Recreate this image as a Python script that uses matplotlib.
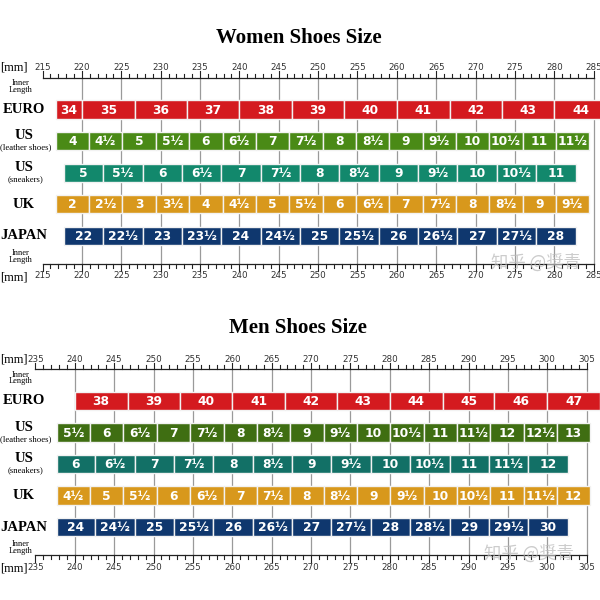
import matplotlib.pyplot as plt

# ---- data: size labels and their segment edges along the foot length [mm]
w_euro = ['34', '35', '36', '37', '38', '39', '40', '41', '42', '43', '44']
w_euro_edges = [216.7, 220.0, 226.7, 233.3, 240.0, 246.7, 253.3, 260.0, 266.7, 273.3, 280.0, 286.7]
w_us_leather = ['4', '4½', '5', '5½', '6', '6½', '7', '7½', '8', '8½', '9', '9½', '10', '10½', '11', '11½']
w_us_leather_edges = [216.7, 220.9, 225.1, 229.4, 233.6, 237.9, 242.1, 246.3, 250.6,
                      254.8, 259.0, 263.3, 267.5, 271.7, 276.0, 280.2, 284.4]
w_us_sneakers = ['5', '5½', '6', '6½', '7', '7½', '8', '8½', '9', '9½', '10', '10½', '11']
w_us_sneakers_edges = [217.7, 222.7, 227.7, 232.7, 237.7, 242.7, 247.7, 252.7,
                       257.7, 262.7, 267.7, 272.7, 277.7, 282.7]
w_uk = ['2', '2½', '3', '3½', '4', '4½', '5', '5½', '6', '6½', '7', '7½', '8', '8½', '9', '9½']
w_uk_edges = [216.7, 220.9, 225.1, 229.4, 233.6, 237.9, 242.1, 246.3, 250.6,
              254.8, 259.0, 263.3, 267.5, 271.7, 276.0, 280.2, 284.4]
w_japan = ['22', '22½', '23', '23½', '24', '24½', '25', '25½', '26', '26½', '27', '27½', '28']
w_japan_edges = [217.7, 222.7, 227.7, 232.7, 237.7, 242.7, 247.7, 252.7,
                 257.7, 262.7, 267.7, 272.7, 277.7, 282.7]

m_euro = ['38', '39', '40', '41', '42', '43', '44', '45', '46', '47']
m_euro_edges = [240.0, 246.7, 253.3, 260.0, 266.7, 273.3, 280.0, 286.7, 293.3, 300.0, 306.7]
m_us_leather = ['5½', '6', '6½', '7', '7½', '8', '8½', '9', '9½', '10', '10½', '11', '11½', '12', '12½', '13']
m_us_leather_edges = [237.7, 241.9, 246.1, 250.4, 254.6, 258.9, 263.1, 267.3, 271.6,
                      275.8, 280.0, 284.3, 288.5, 292.7, 297.0, 301.2, 305.4]
m_us_sneakers = ['6', '6½', '7', '7½', '8', '8½', '9', '9½', '10', '10½', '11', '11½', '12']
m_us_sneakers_edges = [237.7, 242.6, 247.6, 252.6, 257.6, 262.6, 267.6, 272.6,
                       277.6, 282.6, 287.6, 292.6, 297.6, 302.6]
m_uk = ['4½', '5', '5½', '6', '6½', '7', '7½', '8', '8½', '9', '9½', '10', '10½', '11', '11½', '12']
m_uk_edges = [237.7, 241.9, 246.1, 250.4, 254.6, 258.9, 263.1, 267.3, 271.6,
              275.8, 280.0, 284.3, 288.5, 292.7, 297.0, 301.2, 305.4]
m_japan = ['24', '24½', '25', '25½', '26', '26½', '27', '27½', '28', '28½', '29', '29½', '30']
m_japan_edges = [237.7, 242.6, 247.6, 252.6, 257.6, 262.6, 267.6, 272.6,
                 277.6, 282.6, 287.6, 292.6, 297.6, 302.6]

row_names = [('EURO', None), ('US', '(leather shoes)'), ('US', '(sneakers)'), ('UK', None), ('JAPAN', None)]

SERIF = 'Liberation Serif'


def draw_ruler(ax, lo, hi, y, up, lab_y):
    ax.plot([lo, hi], [y, y], color='#222222', lw=0.9, zorder=3)
    s = -1 if up else 1
    for mm in range(lo, hi + 1):
        h = 0.22 if mm % 5 == 0 else 0.13
        ax.plot([mm, mm], [y, y + s * h], color='#222222', lw=0.8, zorder=3)
        if mm % 5 == 0:
            ax.text(mm, lab_y, str(mm), ha='center', va='center', fontsize=6.3,
                    color='#333333', zorder=4)


def draw_panel(ax, title, rows, colors, lo, hi, xlim, ylim, title_y, wm_x):
    ax.set_xlim(*xlim)
    ax.set_ylim(*ylim)
    ax.axis('off')
    top, bot = -1.0, 4.89
    ax.text((xlim[0] + xlim[1]) / 2 - 0.2, title_y, title, ha='center', va='center',
            fontsize=15, fontweight='bold', family=SERIF)

    # guide lines every 5 mm
    ax.vlines(range(lo + 5, hi + 1, 5), top, bot, color='#9a9a9a', lw=0.9, zorder=0)
    draw_ruler(ax, lo, hi, top, True, top - 0.33)
    draw_ruler(ax, lo, hi, bot, False, bot + 0.38)

    yt = ax.get_yaxis_transform()
    ax.text(0.0, top - 0.33, '[mm]', transform=yt, ha='left', va='center',
            fontsize=9, family=SERIF)
    ax.text(0.035, top + 0.27, 'Inner\nLength', transform=yt, ha='center', va='center',
            fontsize=6, family=SERIF, linespacing=0.8)
    ax.text(0.035, bot - 0.24, 'Inner\nLength', transform=yt, ha='center', va='center',
            fontsize=6, family=SERIF, linespacing=0.8)
    ax.text(0.0, bot + 0.42, '[mm]', transform=yt, ha='left', va='center',
            fontsize=9, family=SERIF)

    for i, ((labels, edges), col, (name, sub)) in enumerate(zip(rows, colors, row_names)):
        lefts = edges[:-1]
        widths = [b - a for a, b in zip(edges[:-1], edges[1:])]
        ax.barh(i, widths, left=lefts, height=0.58, color=col, edgecolor='#f2f2f2',
                linewidth=1.0, zorder=2)
        for a, w, lab in zip(lefts, widths, labels):
            ax.text(a + w / 2, i + 0.02, lab, ha='center', va='center', color='white',
                    fontsize=8.8, fontweight='bold', zorder=5, clip_on=True)
        if sub is None:
            ax.text(0.04, i, name, transform=yt, ha='center', va='center',
                    fontsize=10.5, fontweight='bold', family=SERIF)
        else:
            ax.text(0.04, i - 0.17, name, transform=yt, ha='center', va='center',
                    fontsize=10.5, fontweight='bold', family=SERIF)
            ax.text(0.043, i + 0.2, sub, transform=yt, ha='center', va='center',
                    fontsize=6.3, family=SERIF)

    ax.text(wm_x, bot - 0.05, '知乎 @奨青', ha='left', va='center', fontsize=12.5,
            color='#bbbbbb', alpha=0.75, zorder=6,
            family=['Noto Sans CJK SC', 'DejaVu Sans'])


fig = plt.figure(figsize=(6, 6), dpi=100)

ax_w = fig.add_axes([0, 0.5, 1, 0.5])
draw_panel(ax_w, 'Women Shoes Size',
           [(w_euro, w_euro_edges), (w_us_leather, w_us_leather_edges),
            (w_us_sneakers, w_us_sneakers_edges), (w_uk, w_uk_edges), (w_japan, w_japan_edges)],
           ['#d41a1f', '#4a8a16', '#12886c', '#d8981c', '#0f376e'],
           215, 285, (209.6, 285.8), (6.03, -3.465), -2.26, 272.0)

ax_m = fig.add_axes([0, 0, 1, 0.5])
draw_panel(ax_m, 'Men Shoes Size',
           [(m_euro, m_euro_edges), (m_us_leather, m_us_leather_edges),
            (m_us_sneakers, m_us_sneakers_edges), (m_uk, m_uk_edges), (m_japan, m_japan_edges)],
           ['#d41a1f', '#3f6e12', '#127066', '#d8981c', '#0f376e'],
           235, 305, (230.5, 306.7), (6.317, -3.206), -2.32, 292.0)

fig.savefig('out.png', dpi=100, facecolor='white')
